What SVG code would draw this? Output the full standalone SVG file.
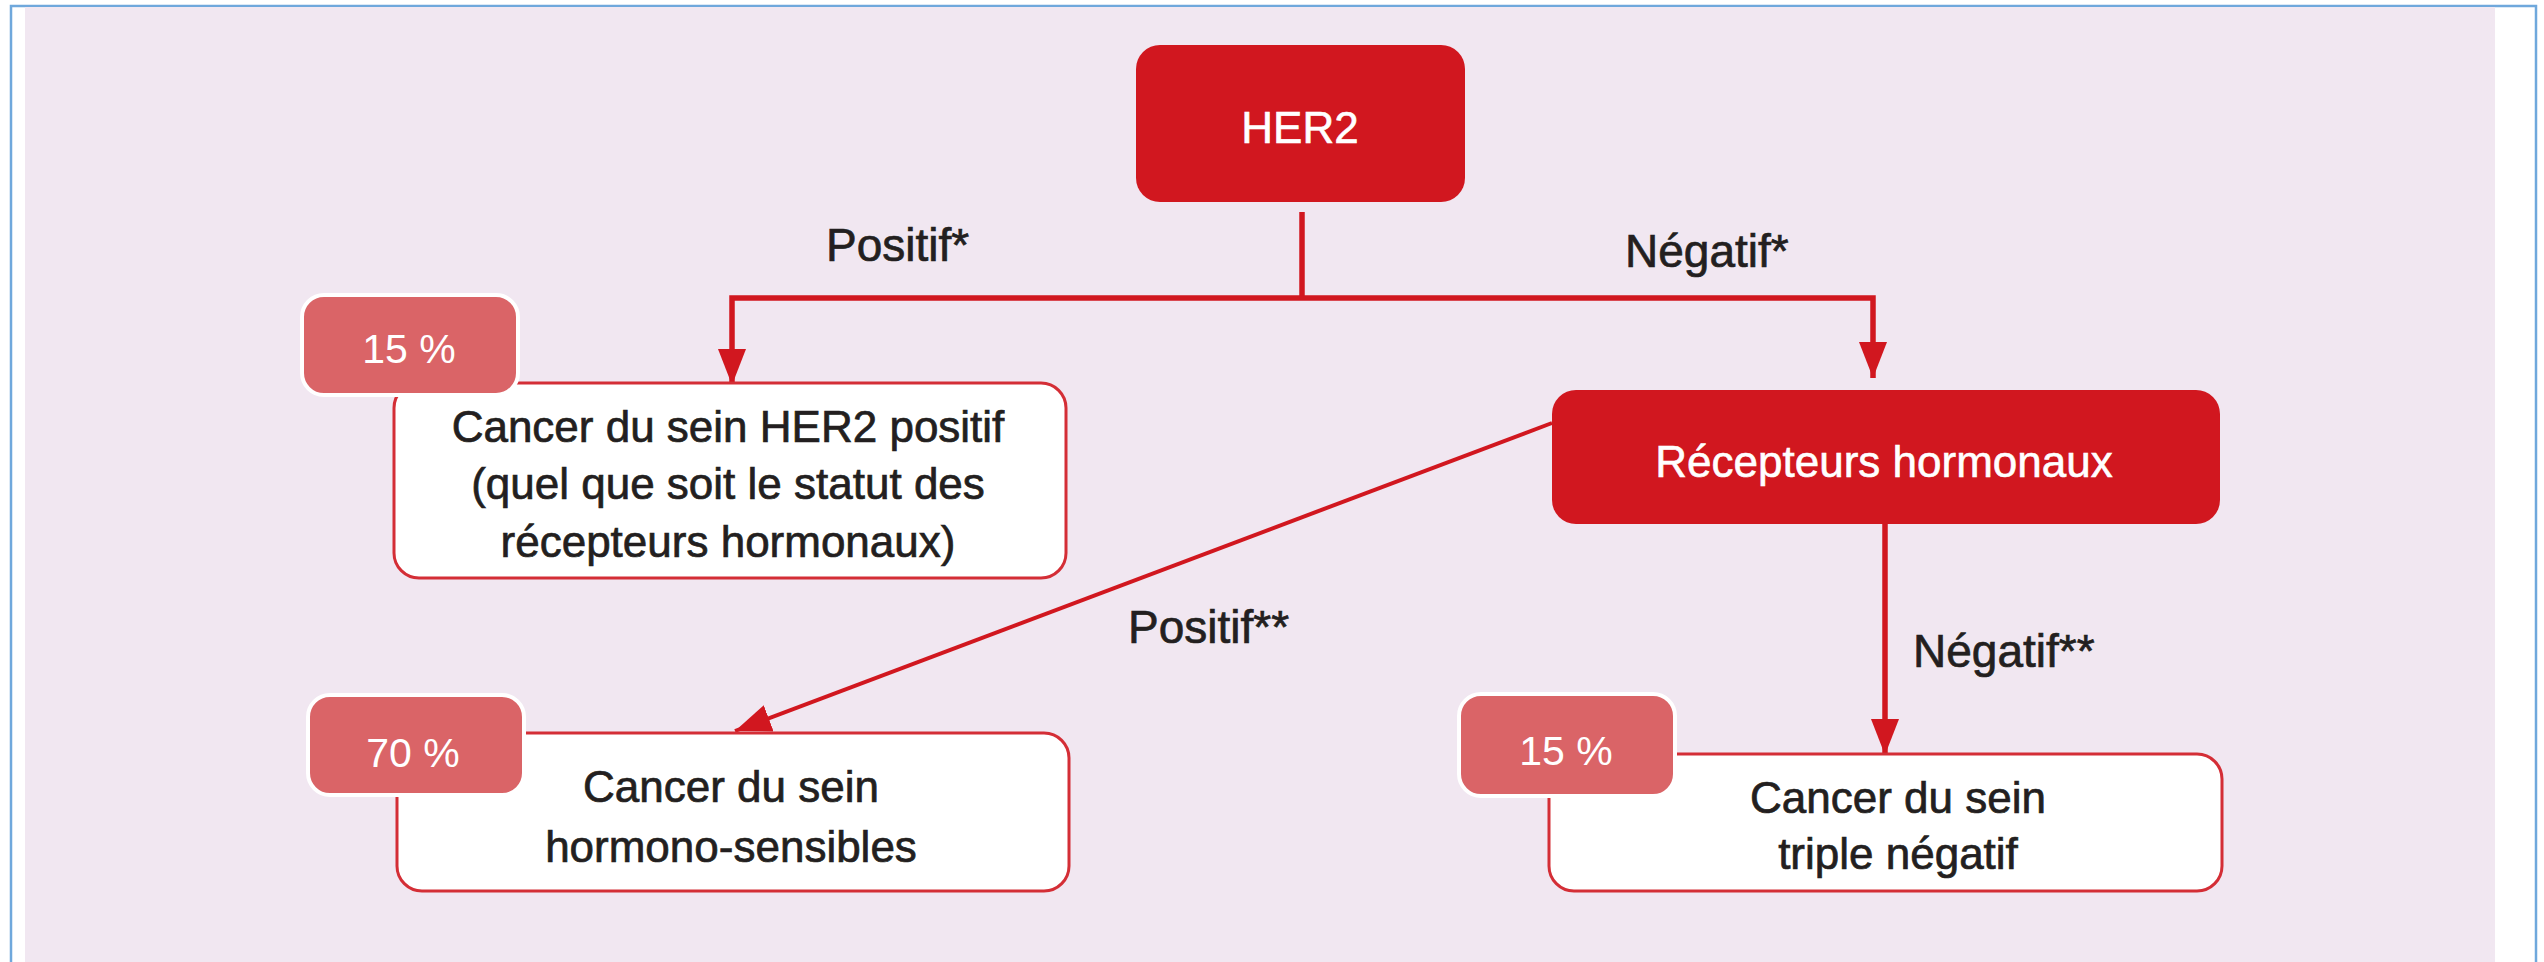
<svg xmlns="http://www.w3.org/2000/svg" width="2544" height="962" viewBox="0 0 2544 962">
  <style>
    .frame { fill: #ffffff; stroke: #6FA8DC; stroke-width: 2.5; }
    .bg { fill: #F1E7F1; }
    .red { fill: #D1171F; }
    .badge { fill: #DA6467; stroke: #ffffff; stroke-width: 4; }
    .box { fill: #ffffff; stroke: #D42E36; stroke-width: 3; }
    .conn { fill: none; stroke: #D1171F; stroke-width: 5.5; }
    .diag { fill: none; stroke: #D1171F; stroke-width: 4; }
    text { font-family: "Liberation Sans", Arial, sans-serif; }
    .wt { fill: #ffffff; stroke: #ffffff; stroke-width: 0.6; font-size: 44px; text-anchor: middle; }
    .bt { fill: #231F20; stroke: #231F20; stroke-width: 0.7; font-size: 44px; text-anchor: middle; }
    .lbl { fill: #231F20; stroke: #231F20; stroke-width: 0.7; font-size: 46px; }
    .pct { fill: #ffffff; font-size: 41px; text-anchor: middle; }
  </style>
  <defs>
    <marker id="arr" markerUnits="userSpaceOnUse" markerWidth="38" markerHeight="30" refX="36" refY="14" orient="auto">
      <path d="M0,0 L36,14 L0,28 Z" fill="#D1171F"/>
    </marker>
  </defs>

  <rect class="frame" x="11" y="6" width="2525" height="1000"/>
  <rect class="bg" x="25" y="7" width="2470" height="955"/>

  <g id="connectors">
    <path class="conn" d="M1302,212 V298"/>
    <path class="conn" d="M1302,298 H732 V385" marker-end="url(#arr)"/>
    <path class="conn" d="M1302,298 H1873 V378" marker-end="url(#arr)"/>
    <path class="diag" d="M1552,423 L735,731" marker-end="url(#arr)"/>
    <path class="conn" d="M1885,524 V755" marker-end="url(#arr)"/>
    <text class="lbl" x="826" y="261">Positif*</text>
    <text class="lbl" x="1625" y="267">Négatif*</text>
    <text class="lbl" x="1128" y="643">Positif**</text>
    <text class="lbl" x="1913" y="667">Négatif**</text>
  </g>

  <g id="her2">
    <rect class="red" x="1136" y="45" width="329" height="157" rx="24"/>
    <text class="wt" x="1300" y="143">HER2</text>
  </g>

  <g id="recepteurs">
    <rect class="red" x="1552" y="390" width="668" height="134" rx="24"/>
    <text class="wt" x="1884" y="477" font-size="45">Récepteurs hormonaux</text>
  </g>

  <g id="her2-positif">
    <rect class="box" x="394" y="383" width="672" height="195" rx="25"/>
    <text class="bt" x="728" y="442">Cancer du sein HER2 positif</text>
    <text class="bt" x="728" y="499">(quel que soit le statut des</text>
    <text class="bt" x="728" y="557">récepteurs hormonaux)</text>
    <rect class="badge" x="302" y="295" width="216" height="100" rx="22"/>
    <text class="pct" x="409" y="363">15 %</text>
  </g>

  <g id="hormono-sensibles">
    <rect class="box" x="397" y="733" width="672" height="158" rx="25"/>
    <text class="bt" x="731" y="802">Cancer du sein</text>
    <text class="bt" x="731" y="862">hormono-sensibles</text>
    <rect class="badge" x="308" y="695" width="216" height="100" rx="22"/>
    <text class="pct" x="413" y="767">70 %</text>
  </g>

  <g id="triple-negatif">
    <rect class="box" x="1549" y="754" width="673" height="137" rx="25"/>
    <text class="bt" x="1898" y="813">Cancer du sein</text>
    <text class="bt" x="1898" y="869">triple négatif</text>
    <rect class="badge" x="1459" y="694" width="216" height="102" rx="22"/>
    <text class="pct" x="1566" y="765">15 %</text>
  </g>
</svg>
